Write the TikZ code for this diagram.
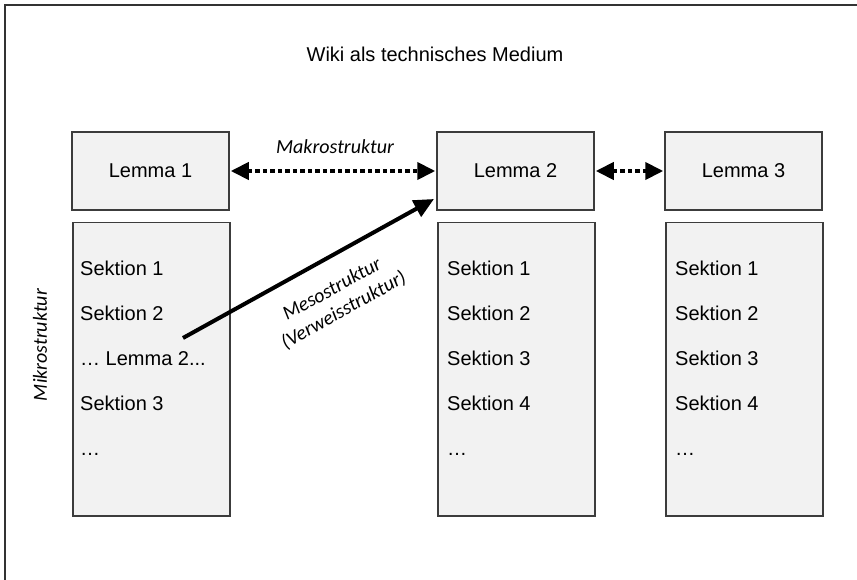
\documentclass[tikz,border=0pt]{standalone}
\usepackage{fontspec}
\setmainfont{Liberation Sans}
\newfontfamily\carl{Carlito}
\usetikzlibrary{arrows.meta}
\definecolor{boxfill}{RGB}{242,242,242}
\definecolor{boxline}{RGB}{60,60,60}
\tikzset{
  box/.style={draw=boxline, fill=boxfill, line width=1.5pt, minimum width=157pt, inner sep=0pt},
  lemmabox/.style={box, minimum height=78pt},
  sekbox/.style={box, minimum height=293pt, anchor=north west},
  txt/.style={font=\fontsize{20}{24}\selectfont, inner sep=0pt},
  ital/.style={font=\carl\itshape\fontsize{20}{24}\selectfont, inner sep=0pt},
  sek/.style={txt, anchor=base west},
  dotarrow/.style={line width=4pt, dash pattern=on 4.5pt off 3pt, {Triangle[length=18pt,width=17pt]}-{Triangle[length=18pt,width=17pt]}, shorten <=1pt, shorten >=1pt},
  mesoarrow/.style={line width=4pt, -{Triangle[length=20pt,width=18pt]}}
}
\begin{document}
\begin{tikzpicture}[x=1pt,y=-1pt]
\useasboundingbox (0,0) rectangle (857,580);
\draw[line width=2pt, black!80] (5,580) -- (5,5) -- (857,5);

\node[txt, anchor=base] (title) at (435,62) {Wiki als technisches Medium};

\node[lemmabox, txt] (L1) at (150.5,171) {Lemma 1};
\node[lemmabox, txt] (L2) at (515.5,171) {Lemma 2};
\node[lemmabox, txt] (L3) at (743.5,171) {Lemma 3};

\node[sekbox] (S1) at (72,222) {};
\node[sekbox] (S2) at (437,222) {};
\node[sekbox] (S3) at (665,222) {};

\node[sek] (a1) at (80,276) {Sektion 1};
\node[sek] (a2) at (80,320) {Sektion 2};
\node[sek] (a3) at (80,365) {… Lemma 2...};
\node[sek] (a4) at (80,410) {Sektion 3};
\node[sek] (a5) at (80,455) {…};

\node[sek] (b1) at (447,276) {Sektion 1};
\node[sek] (b2) at (447,320) {Sektion 2};
\node[sek] (b3) at (447,365) {Sektion 3};
\node[sek] (b4) at (447,410) {Sektion 4};
\node[sek] (b5) at (447,455) {…};

\node[sek] (c1) at (675,276) {Sektion 1};
\node[sek] (c2) at (675,320) {Sektion 2};
\node[sek] (c3) at (675,365) {Sektion 3};
\node[sek] (c4) at (675,410) {Sektion 4};
\node[sek] (c5) at (675,455) {…};

\draw[dotarrow] (L1.east) -- (L2.west);
\draw[dotarrow] (L2.east) -- (L3.west);
\node[ital] (makro) at (335,147) {Makrostruktur};

\coordinate (ms) at (183,338);
\coordinate (me) at (434,199);
\draw[mesoarrow] (ms) -- (me);
\node[ital, align=center, rotate=29] (meso) at (338,300) {Mesostruktur\\(Verweisstruktur)};

\node[ital, rotate=90] (mikro) at (40,345) {Mikrostruktur};
\end{tikzpicture}
\end{document}
